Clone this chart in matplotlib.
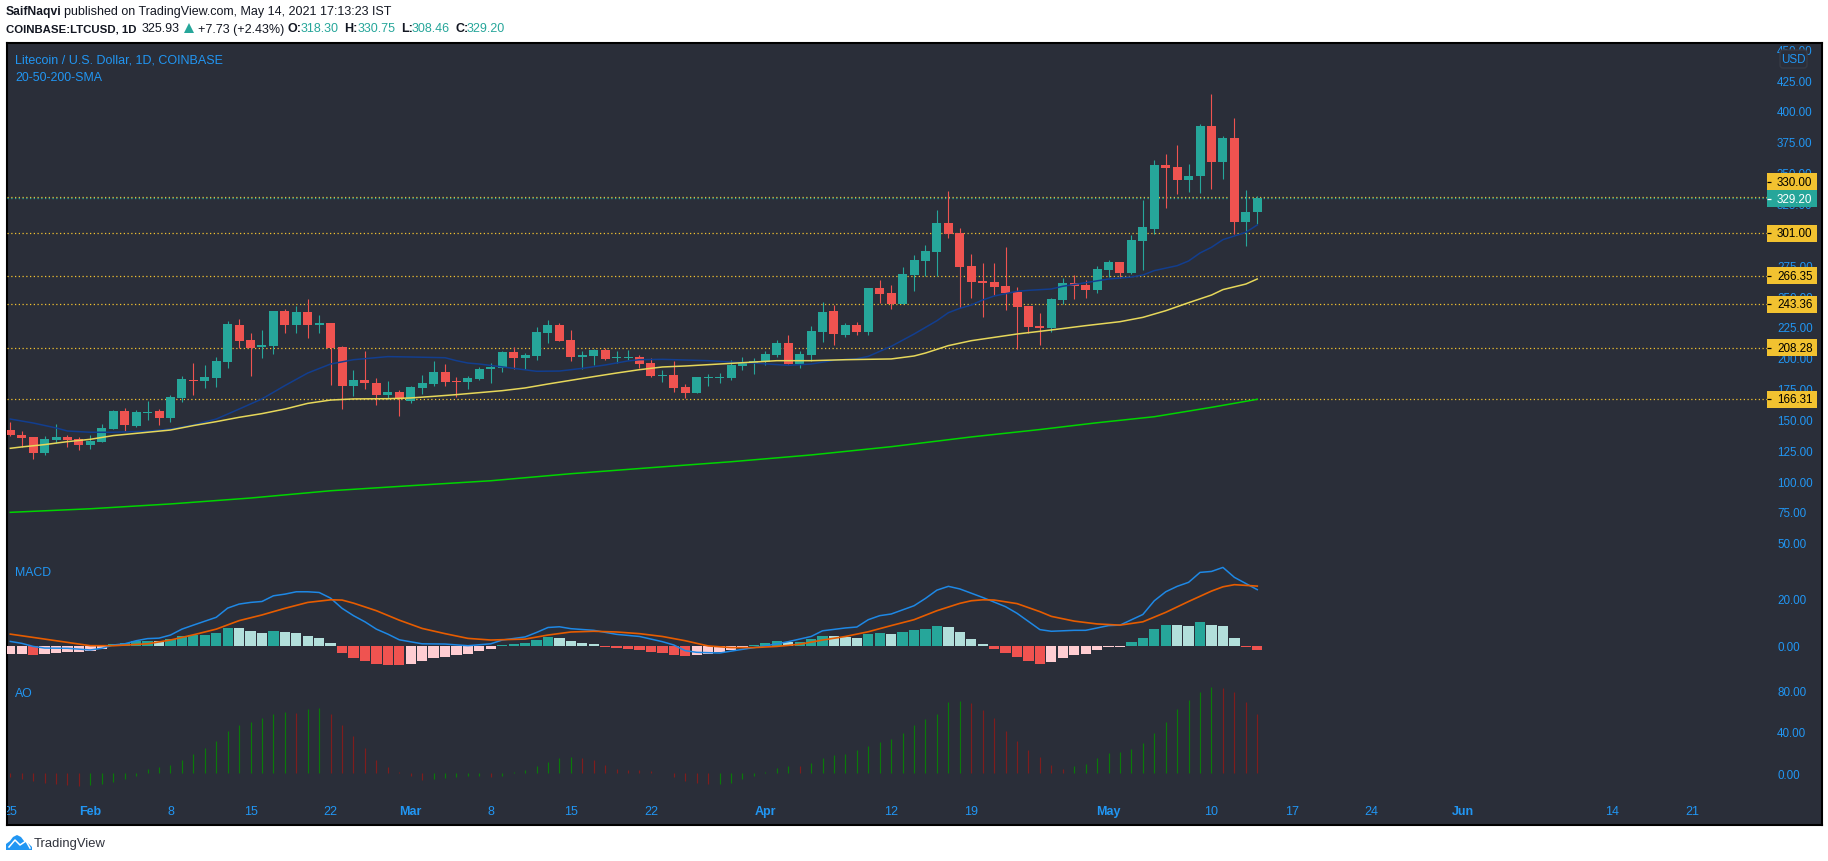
import matplotlib
matplotlib.use("Agg")
import matplotlib.pyplot as plt
import numpy as np
import pandas as pd
from matplotlib.patches import Rectangle, FancyBboxPatch, Polygon, Circle
from matplotlib.transforms import Bbox

plt.rcParams['font.family'] = ['Liberation Sans', 'DejaVu Sans']

# ---------- data ----------
START_DATE = '2021-01-25'
opens = [141.4,137.4,135.8,122.8,133.3,135.8,134.2,129.3,131.7,142.2,
         156.8,144.7,155.2,156.8,151.2,167.4,182.0,181.1,183.6,196.5,
         226.5,214.4,208.4,209.5,237.9,226.5,237.1,226.5,228.1,208.7,
         177.1,182.0,179.5,169.8,172.2,165.0,175.5,178.7,188.4,181.1,
         180.3,182.8,190.9,191.7,204.6,199.8,201.4,220.0,226.5,214.4,
         200.6,201.4,206.3,199.8,199.8,200.6,195.7,185.2,186.0,176.3,
         171.4,183.6,183.6,183.6,193.3,195.7,196.5,202.2,211.9,194.9,
         202.2,220.8,237.9,218.4,226.5,220.8,256.5,252.5,243.5,267.0,
         278.4,285.7,309.2,301.1,274.3,262.2,261.4,258.1,253.2,241.9,
         225.7,224.1,246.8,260.6,258.9,254.9,271.1,277.6,268.6,294.6,
         304.3,356.2,354.6,344.0,347.3,387.8,358.6,378.1,310.0,318.3]
closes = [137.4,135.0,122.8,134.2,135.8,133.3,129.3,132.5,143.1,156.8,
          145.5,156.0,156.0,151.2,168.2,182.8,181.1,184.4,197.4,227.3,
          213.6,207.9,210.3,237.9,226.5,237.1,226.5,228.1,207.9,177.1,
          182.0,179.5,169.8,172.2,166.6,176.3,179.5,188.4,180.3,180.3,
          183.6,190.9,192.5,204.6,199.8,202.2,220.8,226.5,213.6,200.6,
          202.2,206.3,199.0,200.6,200.6,194.9,185.2,186.0,175.5,171.4,
          184.4,184.4,184.4,194.1,196.5,197.4,203.0,211.9,194.9,203.0,
          221.7,237.1,219.2,226.5,220.8,256.5,251.6,243.5,267.8,279.2,
          286.5,309.2,300.3,273.5,261.4,260.6,257.3,252.4,241.1,224.9,
          224.1,247.6,260.6,258.1,254.9,271.9,277.6,268.6,295.4,305.9,
          356.2,353.8,344.0,347.3,387.8,358.6,378.1,310.0,318.1,329.2]
highs = [148.2,140.6,135.8,136.6,146.3,137.4,135.8,137.4,146.3,157.7,
         159.3,157.7,164.9,158.4,169.8,185.2,195.7,194.1,200.6,229.8,
         231.4,220.0,222.5,237.9,239.5,241.9,247.6,234.6,228.1,209.5,
         190.1,205.5,183.6,181.1,173.9,177.1,186.0,197.4,194.9,184.4,
         185.2,192.5,195.7,205.5,208.4,203.8,224.9,230.6,228.1,222.5,
         205.5,207.1,207.9,205.5,206.3,202.2,199.8,190.1,197.4,178.7,
         184.4,186.8,187.6,198.2,200.6,199.8,205.5,214.4,218.4,205.5,
         225.7,245.2,242.7,228.1,228.9,256.5,263.0,258.9,273.5,283.2,
         291.3,319.7,335.1,305.1,284.1,276.8,276.8,289.7,257.3,241.9,
         236.2,248.4,264.6,267.0,263.0,274.3,279.2,277.6,299.4,327.8,
         360.2,365.1,372.4,357.0,389.4,413.7,379.7,394.3,335.9,330.75]
lows = [136.6,127.7,117.9,121.2,130.9,127.7,125.2,126.1,131.7,142.2,
        140.6,143.9,149.5,145.5,147.9,164.1,169.8,175.5,176.3,191.7,
        207.9,185.2,199.8,203.0,220.0,220.0,216.0,220.0,177.9,158.4,
        169.0,174.7,161.7,166.6,152.8,163.3,170.6,177.1,177.1,168.2,
        174.7,182.0,179.5,188.4,190.9,190.9,198.2,211.9,213.6,197.4,
        190.9,194.1,198.2,195.7,198.2,191.7,184.4,180.3,172.2,167.4,
        171.4,177.1,179.5,182.0,190.1,186.8,194.1,200.6,194.9,191.7,
        197.4,212.7,210.3,216.8,218.4,218.4,244.4,239.5,243.5,254.1,
        266.2,266.2,297.0,240.3,248.4,233.0,250.8,238.7,207.1,220.0,
        210.3,220.9,243.5,247.6,248.4,252.4,265.4,264.6,267.8,271.1,
        300.3,321.3,332.7,334.3,333.5,336.7,344.8,300.3,290.5,308.46]

sma20_days = [0,2,4,5,7,9,12,14,16,18,20,22,24,26,28,30,33,35,38,39,40,41,44,46,48,50,52,54,55,57,61,63,65,
              68,70,72,74,75,77,79,81,82,83,84,85,86,88,89,91,92,94,96,98,99,100,102,103,104,105,106,108,109]
sma20_vals = [150.3,147.1,143.1,140.6,139.6,139.6,140.4,142.2,145.5,150.3,158.4,166.6,177.4,187.6,194.9,198.4,
              200.9,200.6,200.0,197.6,195.7,194.9,191.4,189.0,189.2,191.4,194.1,197.4,198.4,198.7,197.6,196.5,
              195.7,193.8,194.9,197.9,199.2,201.1,209.2,219.2,230.0,236.5,240.0,242.7,246.8,250.0,253.8,254.6,
              255.7,257.9,260.8,263.8,265.4,267.0,270.6,274.6,278.4,284.9,289.5,295.7,301.6,307.6]
sma50_days = [0,1,3,5,7,9,11,14,16,18,20,22,24,26,28,30,33,35,37,39,41,43,45,47,49,51,53,55,57,59,62,65,67,70,
              73,77,79,80,82,84,86,88,91,94,97,99,101,103,105,106,108,109]
sma50_vals = [126.6,127.7,129.6,132.0,133.9,136.9,138.7,141.4,145.0,148.2,151.7,154.7,158.4,163.0,165.7,166.6,
              166.8,167.4,168.7,170.1,171.7,173.3,175.5,178.7,181.7,184.7,187.6,190.3,192.5,193.3,194.9,196.5,
              197.6,197.6,198.4,199.0,201.4,203.8,209.8,213.8,216.5,219.2,222.5,226.0,229.2,232.7,238.1,244.6,
              250.8,255.2,259.7,263.8]
sma200_days = [0,7,14,21,28,35,42,49,56,63,70,77,84,90,95,100,105,109]
sma200_vals = [74.7,77.6,81.5,86.3,92.2,96.3,100.3,106.0,110.9,115.7,121.2,127.9,135.8,141.8,147.3,152.2,159.8,166.31]

level_vals = [330.00, 301.00, 266.35, 243.36, 208.28, 166.31]
last_close = 329.20
price_ticks = list(range(450, 49, -25))

macd_hist = [-3.5,-3.5,-3.9,-3.5,-3.1,-2.7,-2.7,-2.1,-1.4,0.7,
             1.1,1.8,2.1,2.1,2.8,4.1,4.5,4.6,5.4,7.5,
             7.5,6.2,5.4,6.2,5.8,5.4,4.1,3.2,1.1,-3.1,
             -5.2,-6.5,-7.7,-8.2,-8.3,-7.7,-6.5,-5.2,-4.8,-3.9,
             -3.5,-2.3,-1.4,0.3,0.7,1.1,2.4,3.8,3.2,2.0,
             1.1,0.7,-0.6,-1.0,-1.4,-1.8,-2.7,-3.1,-3.9,-4.4,
             -3.9,-3.5,-2.7,-1.8,-1.0,0.3,1.1,2.0,1.5,1.6,
             2.8,4.1,4.1,3.7,3.2,4.9,5.4,4.9,5.8,6.6,
             7.0,8.3,7.9,5.8,2.8,0.7,-1.4,-3.1,-4.8,-6.5,
             -7.7,-6.9,-5.2,-3.9,-3.5,-1.8,-0.6,-0.6,1.5,3.2,
             7.0,8.7,8.7,8.3,10.0,8.7,8.3,3.2,-0.6,-1.8]
macd_days = [0,1,2,3,5,7,8,9,10,11,12,13,14,15,16,18,19,20,21,22,23,24,25,26,27,28,29,30,31,32,33,34,36,38,40,42,
             43,45,46,47,48,49,51,53,55,57,58,59,60,62,63,65,66,68,70,71,73,74,75,76,77,79,80,81,82,83,85,87,88,
             90,91,93,94,95,96,97,99,100,101,102,103,104,105,106,107,108,109]
macd_vals = [1.8,1.0,-0.3,-1.0,-1.1,-1.8,-1.1,0.3,0.8,2.1,3.0,3.2,4.5,7.0,8.7,12.0,15.9,17.6,18.3,18.7,21.1,21.8,
             22.8,22.8,22.5,20.1,15.8,12.7,10.1,7.0,4.9,2.5,0.8,0.7,0.0,0.8,
             2.4,3.7,5.6,7.7,8.0,7.2,6.5,4.8,3.9,1.7,0.3,-2.1,-2.8,-3.1,-2.3,-0.8,-0.1,1.7,3.9,6.3,7.5,7.9,11.0,
             12.7,13.4,16.9,20.0,23.5,25.1,24.0,20.4,16.5,13.7,
             6.8,6.1,6.5,6.5,7.5,8.5,8.7,13.2,19.0,22.8,25.1,26.8,31.0,31.4,33.1,28.9,26.3,23.7]
signal_days = [0,2,4,6,7,9,12,14,16,18,20,22,24,26,28,29,30,32,34,36,38,40,42,45,47,49,51,53,55,57,59,61,63,65,67,
               69,71,73,75,77,79,81,83,84,85,86,88,90,91,93,95,97,99,101,103,105,106,107,109]
signal_vals = [4.9,3.5,2.1,0.7,0.0,0.0,0.8,2.4,4.6,7.0,10.6,13.0,15.8,18.3,19.4,19.3,18.0,14.8,10.8,7.3,5.1,3.1,
               2.4,2.8,4.5,5.8,6.1,5.8,5.1,3.9,2.1,-0.1,-0.8,-0.8,-0.3,0.6,2.4,3.9,5.9,8.5,11.0,14.8,17.9,19.0,
               19.4,19.3,17.8,14.4,12.4,10.4,9.2,8.7,10.1,14.1,18.7,23.1,24.9,25.8,25.2]
macd_ticks = [20, 0]

ao_vals = [-3.9,-5.1,-7.1,-9.0,-10.3,-11.6,-11.9,-11.7,-10.0,-8.0,
           -5.1,-2.3,4.5,6.4,8.4,13.2,19.0,24.8,31.5,40.2,
           46.9,49.8,52.7,56.6,58.5,58.4,61.4,62.4,57.5,46.9,
           35.4,24.8,13.2,6.4,1.6,-2.3,-6.1,-5.1,-4.2,-3.2,
           -2.3,-2.2,-3.2,-2.3,1.6,3.5,7.4,11.3,15.1,16.1,
           15.1,13.2,8.4,4.5,3.5,3.4,2.6,0.6,-3.2,-7.1,
           -9.0,-10.0,-9.9,-9.0,-5.1,-2.3,1.3,5.5,7.4,7.3,
           10.3,15.1,18.0,19.0,22.8,26.7,30.5,33.4,38.3,46.0,
           51.8,57.5,68.2,69.1,67.2,60.4,52.7,40.2,31.5,22.8,
           16.1,8.4,4.5,7.4,9.3,15.1,19.9,20.9,23.8,29.6,
           39.2,49.8,61.4,70.1,77.8,82.6,82.5,77.8,68.2,57.5]
ao_ticks = [80, 40, 0]

tick_dates = ['2021-01-25','2021-02-01','2021-02-08','2021-02-15','2021-02-22','2021-03-01','2021-03-08',
              '2021-03-15','2021-03-22','2021-04-01','2021-04-12','2021-04-19','2021-05-01','2021-05-10',
              '2021-05-17','2021-05-24','2021-06-01','2021-06-14','2021-06-21']
tick_texts = ['25','Feb','8','15','22','Mar','8','15','22','Apr','12','19','May','10','17','24','Jun','14','21']

# ---------- style ----------
W, H = 1828, 862
BG = '#2A2E39'; TEAL = '#26A69A'; RED = '#EF5350'; PALE = '#B2DFDB'; PINK = '#FFCDD2'
BLUE = '#2196F3'; LEVEL = '#F2C230'; TXT = '#131722'
FS_TICK = 8.4

fig = plt.figure(figsize=(W/100, H/100), dpi=100, facecolor='white')

def pane(x0, y0, x1, y1, **kw):
    return fig.add_axes([x0/W, 1-y1/H, (x1-x0)/W, (y1-y0)/H], **kw)

def ftext(x, y, s, **kw):
    kw.setdefault('va', 'center'); kw.setdefault('ha', 'left'); kw.setdefault('fontsize', 9.0)
    kw.setdefault('color', TXT)
    return fig.text(x/W, 1-y/H, s, **kw)

# frame
frame = pane(6.5, 43.5, 1821.5, 825.5)
frame.set_facecolor(BG); frame.set_xticks([]); frame.set_yticks([])
for s in frame.spines.values():
    s.set_linewidth(1.5); s.set_color('black')

X0, X1 = 7, 1767
PX0, PDAY = 10.3, 11.44
xlim = ((X0-PX0)/PDAY, (X1-PX0)/PDAY)

axp = pane(X0, 44, X1, 560)
axm = pane(X0, 560, X1, 680)
axa = pane(X0, 680, X1, 797)
for ax in (axp, axm, axa):
    ax.patch.set_alpha(0)
    ax.set_xlim(*xlim)
    for s in ax.spines.values():
        s.set_visible(False)
    ax.yaxis.tick_right()
    ax.tick_params(axis='y', length=0, pad=7.2, labelcolor=BLUE, labelsize=FS_TICK)
    ax.tick_params(axis='x', length=0)

# price pane: 1.234 px per dollar, 330 at y=198.3
axp.set_ylim(330-(560-198.3)/1.234, 330+(198.3-44)/1.234)
axp.set_yticks(price_ticks)
axp.set_yticklabels([f'{v:.2f}' for v in price_ticks])
axp.set_xticks([])

o, c, hi, lo = map(np.array, (opens, closes, highs, lows))
days = np.arange(len(o))
cols = [TEAL if b >= a else RED for a, b in zip(o, c)]
axp.vlines(days, lo, hi, colors=cols, linewidth=0.8, zorder=3)
axp.bar(days, np.maximum(np.abs(c-o), 0.8), bottom=np.minimum(o, c), width=0.79, color=cols, linewidth=0, zorder=4)

for v in level_vals:
    axp.axhline(v, color=LEVEL, lw=0.9, ls=(0, (1, 2)), zorder=2)
axp.axhline(last_close, color=TEAL, lw=0.9, ls=(0, (1, 2)), zorder=2)

axp.plot(sma20_days, sma20_vals, color='#123E8F', lw=1.1, zorder=5)
axp.plot(sma50_days, sma50_vals, color='#E6D75A', lw=1.1, zorder=5)
axp.plot(sma200_days, sma200_vals, color='#00D400', lw=1.1, zorder=5)

# MACD pane: 2.365 px per unit, zero at y=646.7
axm.set_ylim((646.7-680)/2.365, (646.7-560)/2.365)
axm.set_yticks(macd_ticks); axm.set_yticklabels([f'{v:.2f}' for v in macd_ticks]); axm.set_xticks([])
hist_cols = []
for i, v in enumerate(macd_hist):
    prev = macd_hist[i-1] if i else v
    if v >= 0:
        hist_cols.append(TEAL if v > prev else PALE)
    else:
        hist_cols.append(RED if v < prev else PINK)
axm.bar(days, macd_hist, width=0.9, color=hist_cols, linewidth=0, zorder=2)
axm.plot(macd_days, macd_vals, color='#1E88E5', lw=1.1, zorder=3)
axm.plot(signal_days, signal_vals, color='#E65C00', lw=1.2, zorder=4)

# AO pane: 1.04 px per unit, zero at y=774.3
axa.set_ylim((774.3-797)/1.04, (774.3-680)/1.04)
axa.set_yticks(ao_ticks); axa.set_yticklabels([f'{v:.2f}' for v in ao_ticks])
ao_cols = ['#7F1D1D' if i == 0 or ao_vals[i] < ao_vals[i-1] else '#0A7A0A' for i in range(len(ao_vals))]
axa.vlines(days, 0, ao_vals, colors=ao_cols, linewidth=0.85, zorder=2)

start = pd.Timestamp(START_DATE)
axa.set_xticks([(pd.Timestamp(d)-start).days for d in tick_dates])
axa.set_xticklabels(tick_texts, color=BLUE, fontsize=FS_TICK+0.6)
axa.tick_params(axis='x', pad=6.6)
clip = Bbox([[7, 0], [W, H]])
for lbl, t in zip(axa.get_xticklabels(), tick_texts):
    if t.isalpha():
        lbl.set_fontweight('bold')
    lbl.set_clip_on(True)
    lbl.set_clip_box(clip)

# right-hand level labels, pinned to the price values
overlay = fig.add_axes([0, 0, 1, 1], zorder=20)
overlay.set_xlim(0, W); overlay.set_ylim(H, 0); overlay.axis('off')

def value_label(y_c, txt, face, fc_text):
    overlay.add_patch(Rectangle((1767, y_c-8.5), 50, 17, facecolor=face, edgecolor='none'))
    overlay.plot([1767, 1771], [y_c, y_c], color=fc_text, lw=0.9, solid_capstyle='butt')
    overlay.text(1777, y_c, txt, va='center', ha='left', color=fc_text, fontsize=FS_TICK)

to_y = lambda v: 198.3 + (330 - v)*1.234
for v in level_vals:
    y = to_y(v)
    value_label(182.7 if v == 330.00 else y, f'{v:.2f}', LEVEL, 'black')
value_label(199.7, f'{last_close:.2f}', TEAL, 'white')

# USD box
overlay.add_patch(FancyBboxPatch((1780, 51), 27, 18, boxstyle='round,pad=0,rounding_size=3',
                                 facecolor=BG, edgecolor='#363A45', lw=1))
overlay.text(1793.5, 60, 'USD', color=BLUE, ha='center', va='center', fontsize=FS_TICK)

# header
ftext(6, 12.5, 'SaifNaqvi', fontweight='bold', fontsize=8.7)
ftext(64, 12.5, 'published on TradingView.com, May 14, 2021 17:13:23 IST')
ftext(6, 29.5, 'COINBASE:LTCUSD, 1D', fontweight='bold', fontsize=8.2)
ftext(142, 29.5, '325.93')
overlay.add_patch(Polygon([[184, 34], [194, 34], [189, 24]], facecolor=TEAL, edgecolor='none'))
ftext(198, 29.5, '+7.73 (+2.43%)')
for x_l, lab, x_v, val in [(287, 'O:', 301, '318.30'), (344, 'H:', 358, '330.75'),
                           (401, 'L:', 412, '308.46'), (455, 'C:', 467, '329.20')]:
    ftext(x_l, 29.5, lab, fontweight='bold')
    ftext(x_v, 29.5, val, color=TEAL)

# pane titles
ftext(15, 60.5, 'Litecoin / U.S. Dollar, 1D, COINBASE', color=BLUE, fontsize=9.0, zorder=30)
ftext(15, 78, '20-50-200-SMA', color=BLUE, fontsize=8.9, zorder=30)
ftext(15, 573, 'MACD', color=BLUE, fontsize=8.8, zorder=30)
ftext(15, 694, 'AO', color=BLUE, fontsize=8.8, zorder=30)

# TradingView logo
overlay.add_patch(Polygon([[6, 851], [6, 845], [10, 842], [13, 838], [17, 836], [21, 838], [24, 842],
                           [29, 845], [32, 848], [32, 851]], facecolor='#2196F3', edgecolor='none'))
overlay.plot([9, 15, 20, 26, 30], [848, 841, 846, 842, 849], color='white', lw=1.1)
ftext(34, 844, 'TradingView', fontsize=9.4, color='#30333C', zorder=30)

fig.savefig('out.png', dpi=100, facecolor='white')
